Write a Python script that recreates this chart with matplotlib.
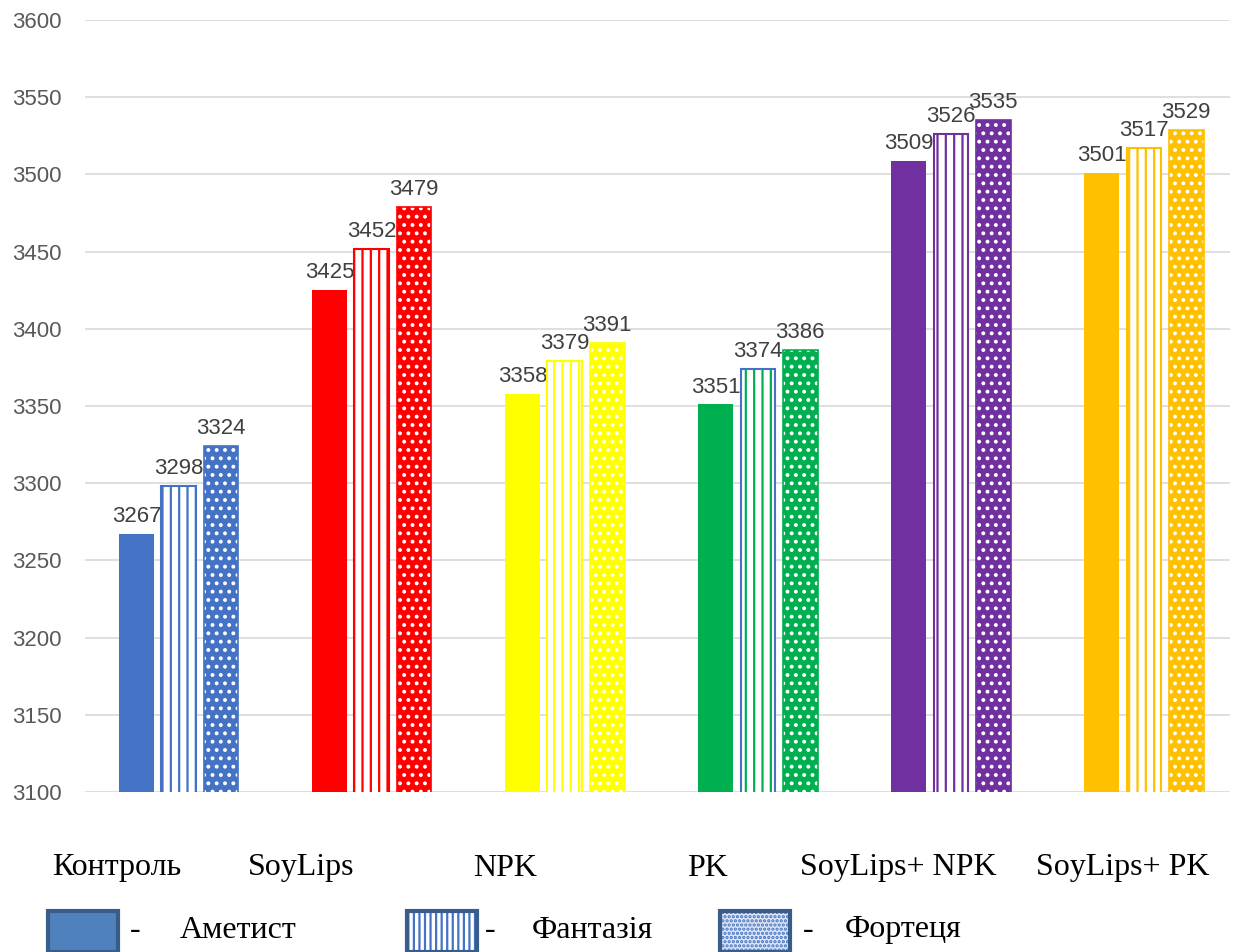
import numpy as np
import matplotlib.pyplot as plt
from matplotlib.patches import Rectangle

# урожайність за варіантами
variants = ['Контроль', 'SoyLips', 'NPK', 'PK', 'SoyLips+ NPK', 'SoyLips+ PK']
sorts = ['Аметист', 'Фантазія', 'Фортеця']
ametyst = [3267, 3425, 3358, 3351, 3509, 3501]
fantazia = [3298, 3452, 3379, 3374, 3526, 3517]
fortetsia = [3324, 3479, 3391, 3386, 3535, 3529]

colors = ['#4472C4', '#FF0000', '#FFFF00', '#00B050', '#7030A0', '#FFC000']
stripe_edge = ['#4472C4', '#FF0000', '#FFFF00', '#4472C4', '#7030A0', '#FFC000']

plt.rcParams['hatch.linewidth'] = 1.6

fig = plt.figure(figsize=(12.4, 9.52), dpi=100)
ax = fig.add_axes([0.0685, 0.168, 0.9235, 0.811])

x = np.arange(len(variants))
w = 0.181
step = 0.218

# суцільні стовпці
ax.bar(x - step, ametyst, w, color=colors, zorder=3)
# смугасті стовпці
ax.bar(x, fantazia, w, color='white', edgecolor=colors, hatch='||', linewidth=0, zorder=3)
ax.bar(x, fantazia, w, fill=False, edgecolor=stripe_edge, linewidth=1.5, zorder=4)
# крапчасті стовпці
ax.bar(x + step, fortetsia, w, color=colors, edgecolor='white', hatch='..', linewidth=0, zorder=3)
ax.bar(x + step, fortetsia, w, fill=False, edgecolor=colors, linewidth=1.2, zorder=4)

lab_font = dict(family='Liberation Sans', fontsize=16, color='#404040')
for off, vals in zip([-step, 0, step], [ametyst, fantazia, fortetsia]):
    for xi, v in zip(x + off, vals):
        ax.annotate(str(v), (xi, v), xytext=(0, 5), textcoords='offset points',
                    ha='center', va='bottom', **lab_font)

ax.set_ylim(3100, 3600)
ax.set_xlim(-0.487, 5.446)
ax.set_yticks(np.arange(3100, 3601, 50))
ax.set_xticks([])
ax.tick_params(axis='y', length=0, pad=17, labelcolor='#595959', labelsize=16)
for t in ax.get_yticklabels():
    t.set_family('Liberation Sans')
ax.grid(axis='y', color='#D9D9D9', linewidth=1.2, zorder=0)
for s in ax.spines.values():
    s.set_visible(False)

# підписи варіантів
label_x = [117, 301, 505, 708, 898, 1123]
for lx, name in zip(label_x, variants):
    fig.text(lx / 1240, 1 - 868 / 952, name, ha='center', va='center',
             family='Liberation Serif', fontsize=23, color='black')

# умовні позначення
leg_y = 1 - 952 / 952
leg_h = 41 / 952
leg_w = 70 / 1240
box_x = [48, 407, 720]
dash_x = [135, 490, 808]
name_x = [180, 532, 845]
styles = [dict(facecolor='#4F81BD', hatch=None),
          dict(facecolor='white', hatch='|||'),
          dict(facecolor='#DDE6F4', hatch='....')]
for bx, dx, nx, st, name in zip(box_x, dash_x, name_x, styles, sorts):
    fig.patches.append(Rectangle((bx / 1240, leg_y), leg_w, leg_h, transform=fig.transFigure,
                                 facecolor=st['facecolor'], edgecolor='#4472C4',
                                 hatch=st['hatch'], linewidth=0, zorder=2))
    fig.patches.append(Rectangle((bx / 1240, leg_y), leg_w, leg_h, transform=fig.transFigure,
                                 fill=False, edgecolor='#385D8A', linewidth=3, zorder=3))
    fig.text(dx / 1240, 1 - 930 / 952, '-', ha='center', va='center',
             family='Liberation Serif', fontsize=23)
    fig.text(nx / 1240, 1 - 930 / 952, name, ha='left', va='center',
             family='Liberation Serif', fontsize=23)

fig.savefig('out.png', dpi=100)
